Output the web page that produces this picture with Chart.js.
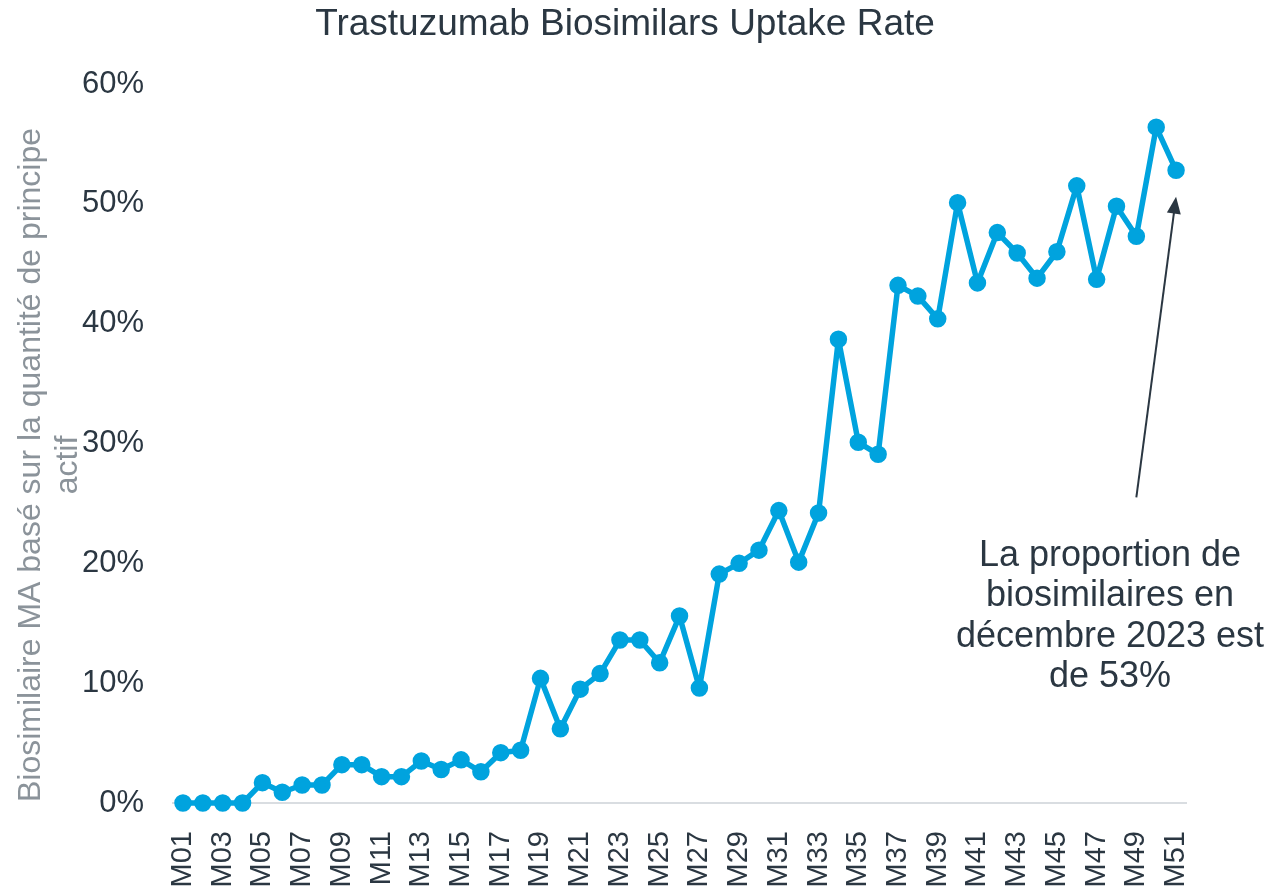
<!DOCTYPE html>
<html>
<head>
<meta charset="utf-8">
<script src="https://cdn.jsdelivr.net/npm/chart.js@4"></script>
<style>
  body { margin: 0; background: #fff; }
</style>
</head>
<body>
<canvas id="uptakeChart" width="1274" height="888"></canvas>
<script>
const months = [];
for (let i = 1; i <= 51; i++) months.push('M' + String(i).padStart(2, '0'));

// share of biosimilars (%)
const uptake = [
    0, 0, 0, 0, 1.7, 0.9, 1.5, 1.5, 3.2, 3.2,
    2.2, 2.2, 3.5, 2.8, 3.6, 2.6, 4.2, 4.4, 10.4, 6.2,
    9.5, 10.8, 13.6, 13.6, 11.7, 15.6, 9.6, 19.1, 20.0, 21.1,
    24.4, 20.1, 24.2, 38.7, 30.1, 29.1, 43.2, 42.3, 40.4, 50.1,
    43.4, 47.6, 45.9, 43.8, 46.0, 51.5, 43.7, 49.8, 47.3, 56.4,
    52.8
];

const yTicks = [0, 10, 20, 30, 40, 50, 60];
const chartTitle = 'Trastuzumab Biosimilars Uptake Rate';
const yTitleLines = ['Biosimilaire MA basé sur la quantité de principe', 'actif'];
const noteLines = ['La proportion de', 'biosimilaires en', 'décembre 2023 est', 'de 53%'];

const textColor = '#2b3742';
const FONT = '"Liberation Sans", Arial, sans-serif';

// title, rotated y title, arrow + note
const decorPlugin = {
    id: 'decor',
    afterDraw(chart) {
        const { ctx, scales: { x, y } } = chart;
        ctx.save();

        ctx.fillStyle = textColor;
        ctx.font = '37px ' + FONT;
        ctx.textAlign = 'center';
        ctx.textBaseline = 'middle';
        ctx.fillText(chartTitle, 625, 25);

        // y axis title
        ctx.save();
        ctx.translate(0, 465);
        ctx.rotate(-Math.PI / 2);
        ctx.fillStyle = '#8b939a';
        ctx.font = '32px ' + FONT;
        ctx.fillText(yTitleLines[0], 0, 31);
        ctx.fillText(yTitleLines[1], 0, 68);
        ctx.restore();

        // arrow
        const last = uptake.length - 1;
        const x0 = x.getPixelForValue(last - 2), y0 = y.getPixelForValue(25.5);
        const x1 = x.getPixelForValue(last), y1 = y.getPixelForValue(50.6);
        const ang = Math.atan2(y1 - y0, x1 - x0);
        ctx.strokeStyle = textColor;
        ctx.lineWidth = 2;
        ctx.beginPath();
        ctx.moveTo(x0, y0);
        ctx.lineTo(x1 - 12 * Math.cos(ang), y1 - 12 * Math.sin(ang));
        ctx.stroke();
        ctx.beginPath();
        ctx.moveTo(x1, y1);
        ctx.lineTo(x1 - 17 * Math.cos(ang) + 7 * Math.sin(ang), y1 - 17 * Math.sin(ang) - 7 * Math.cos(ang));
        ctx.lineTo(x1 - 17 * Math.cos(ang) - 7 * Math.sin(ang), y1 - 17 * Math.sin(ang) + 7 * Math.cos(ang));
        ctx.closePath();
        ctx.fill();

        ctx.font = '36px ' + FONT;
        noteLines.forEach((line, i) => {
            ctx.fillText(line, 1110, 556 + i * 40.5);
        });
        ctx.restore();
    }
};

new Chart(document.getElementById('uptakeChart'), {
    type: 'line',
    data: {
        labels: months,
        datasets: [{
            label: 'Uptake',
            data: uptake,
            borderColor: '#00a3de',
            backgroundColor: '#00a3de',
            borderWidth: 5.5,
            borderJoinStyle: 'round',
            pointRadius: 6,
            pointHoverRadius: 6,
            tension: 0,
            clip: false
        }]
    },
    options: {
        responsive: false,
        animation: false,
        layout: { padding: { left: 53, right: 88, top: 84, bottom: 0 } },
        plugins: {
            legend: { display: false },
            tooltip: { enabled: false },
            title: { display: false }
        },
        scales: {
            x: {
                offset: true,
                afterFit: axis => { axis.height = 85; },
                grid: { display: false, drawTicks: false },
                border: { display: true, color: '#d9dde1', width: 2 },
                ticks: {
                    autoSkip: false,
                    maxRotation: 90,
                    minRotation: 90,
                    padding: 28,
                    color: textColor,
                    font: { family: FONT, size: 29 },
                    callback: function(val, idx) {
                        return idx % 2 === 0 ? months[idx] : '';
                    }
                }
            },
            y: {
                min: yTicks[0],
                max: yTicks[yTicks.length - 1],
                grid: { display: false, drawTicks: false },
                border: { display: false },
                afterBuildTicks: axis => { axis.ticks = yTicks.map(v => ({ value: v })); },
                ticks: {
                    padding: 29,
                    color: textColor,
                    font: { family: FONT, size: 31 },
                    callback: v => v + '%'
                }
            }
        }
    },
    plugins: [decorPlugin]
});
</script>
</body>
</html>
